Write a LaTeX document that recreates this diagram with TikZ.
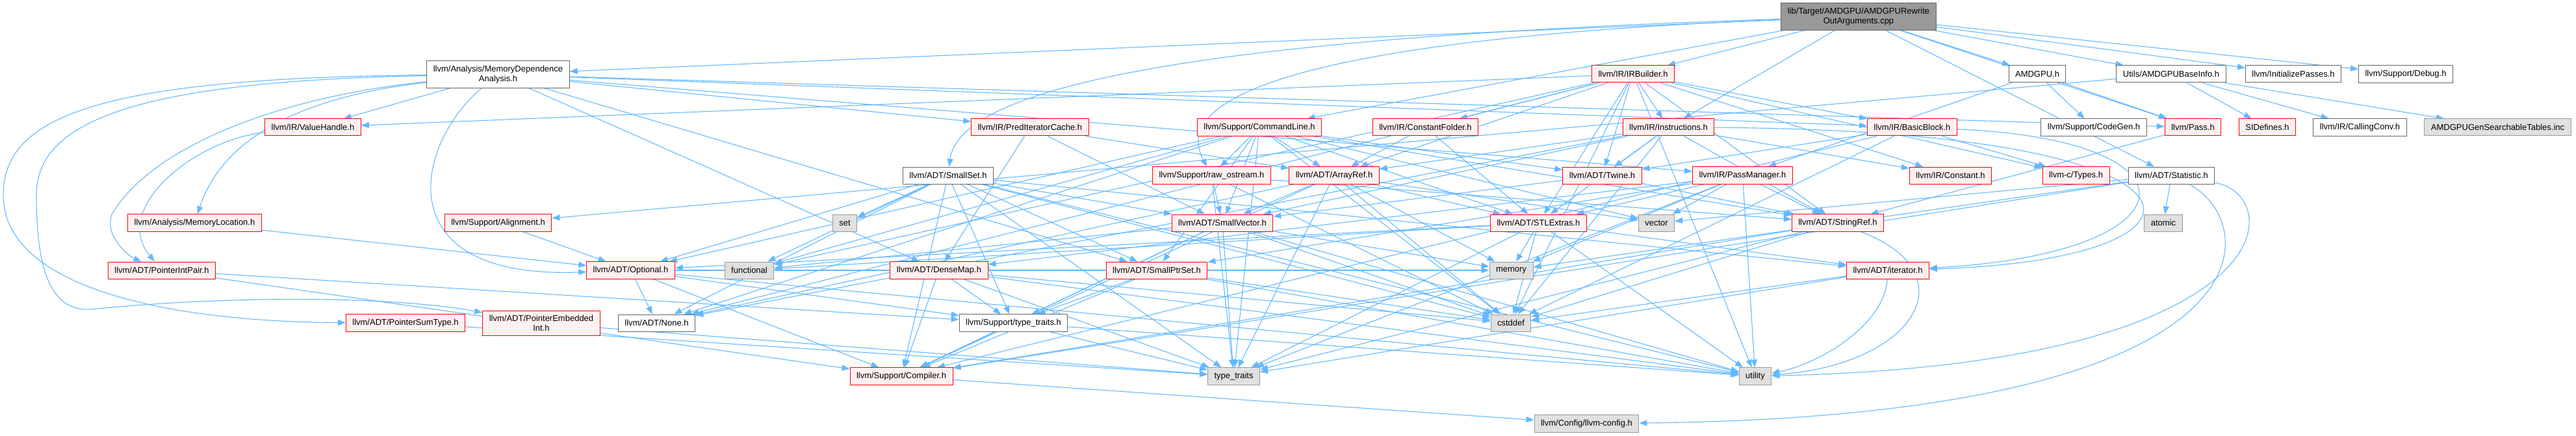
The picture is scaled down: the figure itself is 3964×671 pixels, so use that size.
\documentclass[tikz,border=0pt]{standalone}
\usepackage{fontspec}
\setmainfont{Liberation Sans}
\usetikzlibrary{arrows.meta,backgrounds}

\definecolor{edgeblue}{HTML}{63B8FF}
\definecolor{redfill}{HTML}{FFF0F0}
\definecolor{sysfill}{HTML}{E0E0E0}

\tikzset{
  hdr/.style={draw=black!60, fill=white, line width=1pt, inner xsep=10pt, inner ysep=7pt,
    minimum height=26pt, align=center, font=\fontsize{13}{15}\selectfont},
  trunc/.style={hdr, draw=red, fill=redfill},
  sys/.style={hdr, draw=black!40, fill=sysfill},
  rootfile/.style={hdr, fill=black!40},
  dep/.style={draw=edgeblue, line width=1.1pt, -{Triangle[length=12pt,width=9pt]}},
}

\begin{document}
\begin{tikzpicture}[x=1pt,y=-1pt]
\useasboundingbox (0,0) rectangle (3964,671);

% row 0
\node[rootfile] (root) at (2860,25.5) {lib/Target/AMDGPU/AMDGPURewrite\\OutArguments.cpp};

% row 1
\node[hdr] (memdep) at (766.5,114.5) {llvm/Analysis/MemoryDependence\\Analysis.h};
\node[trunc] (irbuilder) at (2513,114) {llvm/IR/IRBuilder.h};
\node[hdr] (amdgpu) at (3135,114) {AMDGPU.h};
\node[hdr] (baseinfo) at (3341,114) {Utils/AMDGPUBaseInfo.h};
\node[hdr] (initpasses) at (3529,114) {llvm/InitializePasses.h};
\node[hdr] (debug) at (3702,114) {llvm/Support/Debug.h};

% row 2
\node[trunc] (valuehandle) at (481.5,196) {llvm/IR/ValueHandle.h};
\node[trunc] (preditcache) at (1585,196) {llvm/IR/PredIteratorCache.h};
\node[trunc] (cmdline) at (1938,196) {llvm/Support/CommandLine.h};
\node[trunc] (constfolder) at (2193.5,196) {llvm/IR/ConstantFolder.h};
\node[trunc] (instructions) at (2567.5,196) {llvm/IR/Instructions.h};
\node[trunc] (basicblock) at (2942.5,196) {llvm/IR/BasicBlock.h};
\node[hdr] (codegen) at (3222,196) {llvm/Support/CodeGen.h};
\node[trunc] (pass) at (3374.5,196) {llvm/Pass.h};
\node[trunc] (sidefines) at (3489,196) {SIDefines.h};
\node[hdr] (callingconv) at (3631.5,196) {llvm/IR/CallingConv.h};
\node[sys] (gentables) at (3843.5,196) {AMDGPUGenSearchableTables.inc};

% row 3
\node[hdr] (smallset) at (1459,270) {llvm/ADT/SmallSet.h};
\node[trunc] (rawostream) at (1864.5,270) {llvm/Support/raw\_ostream.h};
\node[trunc] (arrayref) at (2053,270) {llvm/ADT/ArrayRef.h};
\node[trunc] (twine) at (2465.5,270) {llvm/ADT/Twine.h};
\node[trunc] (passmanager) at (2681.5,270) {llvm/IR/PassManager.h};
\node[trunc] (constant) at (3001.5,270) {llvm/IR/Constant.h};
\node[trunc] (ctypes) at (3194.5,270) {llvm-c/Types.h};
\node[hdr] (statistic) at (3341.5,270) {llvm/ADT/Statistic.h};

% row 4
\node[trunc] (memloc) at (299.5,343) {llvm/Analysis/MemoryLocation.h};
\node[trunc] (alignment) at (766.5,343) {llvm/Support/Alignment.h};
\node[sys] (set) at (1300,343) {set};
\node[trunc] (smallvector) at (1881,343) {llvm/ADT/SmallVector.h};
\node[trunc] (stlextras) at (2367.5,343) {llvm/ADT/STLExtras.h};
\node[sys] (vector) at (2549,343) {vector};
\node[trunc] (stringref) at (2828,343) {llvm/ADT/StringRef.h};
\node[sys] (atomic) at (3329,343) {atomic};

% row 5
\node[trunc] (ptrintpair) at (249,416) {llvm/ADT/PointerIntPair.h};
\node[trunc] (optional) at (970.5,416) {llvm/ADT/Optional.h};
\node[sys] (functional) at (1153,416) {functional};
\node[trunc] (densemap) at (1445,416) {llvm/ADT/DenseMap.h};
\node[trunc] (smallptrset) at (1780,416) {llvm/ADT/SmallPtrSet.h};
\node[sys] (memory) at (2325.5,416) {memory};
\node[trunc] (iterator) at (2905,416) {llvm/ADT/iterator.h};

% row 6
\node[trunc] (ptrsumtype) at (624,497) {llvm/ADT/PointerSumType.h};
\node[trunc] (ptrembint) at (833,497.5) {llvm/ADT/PointerEmbedded\\Int.h};
\node[hdr] (none) at (1010.5,497) {llvm/ADT/None.h};
\node[hdr] (supptypetraits) at (1559.5,497) {llvm/Support/type\_traits.h};
\node[sys] (cstddef) at (2325,497) {cstddef};

% row 7
\node[trunc] (compiler) at (1387,579) {llvm/Support/Compiler.h};
\node[sys] (typetraits) at (1898.5,579) {type\_traits};
\node[sys] (utility) at (2701,579) {utility};

% row 8
\node[sys] (llvmconfig) at (2441.5,652) {llvm/Config/llvm-config.h};

\begin{scope}[on background layer]
% straight includes
\foreach \a/\b in {
  root/memdep, root/irbuilder, root/amdgpu, root/baseinfo, root/initpasses, root/debug,
  root/instructions, root/statistic, root/cmdline, root/pass,
  memdep/valuehandle, memdep/preditcache, memdep/basicblock, memdep/passmanager,
  memdep/pass, memdep/densemap, memdep/smallptrset,
  irbuilder/ctypes, irbuilder/arrayref, irbuilder/none, irbuilder/stlextras,
  irbuilder/stringref, irbuilder/twine, irbuilder/basicblock, irbuilder/constant,
  irbuilder/constfolder, irbuilder/instructions, irbuilder/valuehandle,
  irbuilder/cstddef, irbuilder/functional, irbuilder/utility,
  amdgpu/passmanager, amdgpu/pass, amdgpu/codegen,
  baseinfo/sidefines, baseinfo/callingconv, baseinfo/gentables, baseinfo/alignment,
  preditcache/arrayref, preditcache/densemap, preditcache/smallvector,
  cmdline/arrayref, cmdline/none, cmdline/optional, cmdline/stlextras,
  cmdline/smallptrset, cmdline/smallvector, cmdline/stringref, cmdline/twine,
  cmdline/rawostream, cmdline/cstddef, cmdline/functional, cmdline/typetraits,
  cmdline/vector,
  constfolder/arrayref, constfolder/stlextras,
  instructions/arrayref, instructions/none, instructions/stlextras,
  instructions/smallvector, instructions/stringref, instructions/twine,
  instructions/constant, instructions/cstddef,
  basicblock/ctypes, basicblock/twine, basicblock/compiler, basicblock/cstddef,
  pass/stringref,
  smallset/none, smallset/optional, smallset/smallptrset, smallset/smallvector,
  smallset/iterator, smallset/compiler, smallset/supptypetraits, smallset/cstddef,
  smallset/functional, smallset/set, smallset/typetraits, smallset/utility,
  rawostream/smallvector, rawostream/stringref, rawostream/cstddef,
  rawostream/typetraits,
  arrayref/none, arrayref/stlextras, arrayref/smallvector, arrayref/compiler,
  arrayref/cstddef, arrayref/memory, arrayref/typetraits, arrayref/vector,
  twine/smallvector, twine/stringref,
  passmanager/densemap, passmanager/stlextras, passmanager/smallptrset,
  passmanager/stringref, passmanager/memory, passmanager/typetraits,
  passmanager/utility, passmanager/vector,
  statistic/compiler, statistic/atomic, statistic/memory, statistic/vector,
  memloc/optional, alignment/optional,
  smallvector/compiler, smallvector/supptypetraits, smallvector/cstddef,
  smallvector/functional, smallvector/memory, smallvector/typetraits,
  smallvector/utility,
  stlextras/optional, stlextras/iterator, stlextras/cstddef, stlextras/functional,
  stlextras/memory, stlextras/typetraits, stlextras/utility,
  stringref/compiler, stringref/cstddef, stringref/typetraits,
  ptrintpair/compiler, ptrintpair/supptypetraits,
  optional/none, optional/compiler, optional/supptypetraits, optional/memory,
  optional/utility,
  densemap/compiler, densemap/supptypetraits, densemap/cstddef,
  densemap/typetraits, densemap/utility,
  smallptrset/compiler, smallptrset/supptypetraits, smallptrset/cstddef,
  smallptrset/utility,
  iterator/cstddef, iterator/typetraits,
  ptrsumtype/typetraits, ptrembint/typetraits,
  supptypetraits/compiler, supptypetraits/typetraits, supptypetraits/utility,
  compiler/llvmconfig} {
  \draw[dep] (\a) -- (\b);
}

% curved includes
\draw[dep] (root) .. controls (2100,50) and (1480,100) .. (smallset);
\draw[dep] (root) .. controls (2000,60) and (1800,150) .. (rawostream);
\draw[dep] (memdep) .. controls (150,120) and (5,180) .. (5,300)
  .. controls (5,440) and (250,495) .. (ptrsumtype);
\draw[dep] (memdep) .. controls (200,125) and (56,190) .. (56,300)
  .. controls (56,420) and (80,480) .. (140,476)
  .. controls (350,455) and (600,455) .. (ptrembint);
\draw[dep] (memdep) .. controls (420,150) and (230,230) .. (172,330)
  .. controls (160,365) and (200,395) .. (ptrintpair);
\draw[dep] (memdep) .. controls (450,150) and (340,220) .. (memloc);
\draw[dep] (memdep) .. controls (640,220) and (590,430) .. (optional);
\draw[dep] (valuehandle) .. controls (300,215) and (170,320) .. (ptrintpair);
\draw[dep] (instructions) .. controls (3450,200) and (3450,400) .. (iterator);
\draw[dep] (basicblock) .. controls (3400,215) and (3380,390) .. (iterator);
\draw[dep] (iterator) .. controls (2900,500) and (2800,560) .. (utility);
\draw[dep] (stringref) .. controls (3030,420) and (2950,560) .. (utility);
\draw[dep] (statistic) .. controls (3520,300) and (3520,560) .. (utility);
\draw[dep] (statistic) .. controls (3480,340) and (3520,640) .. (llvmconfig);
\end{scope}

\end{tikzpicture}
\end{document}
